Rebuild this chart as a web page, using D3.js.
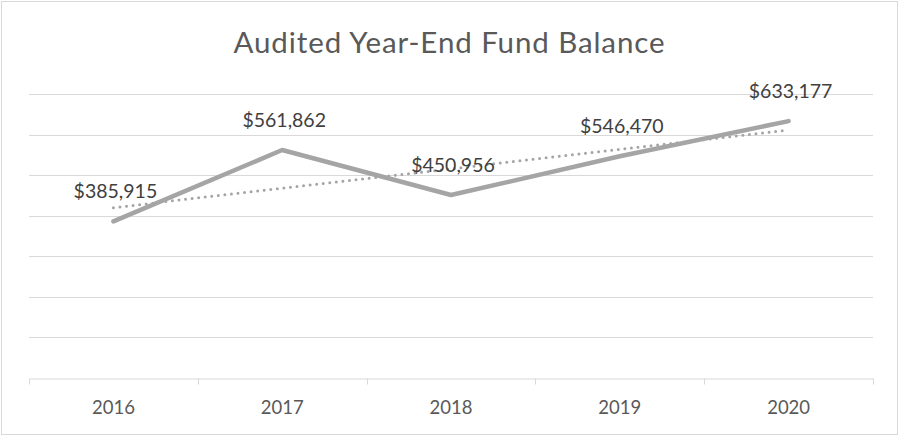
<!DOCTYPE html>
<html>
<head>
<meta charset="utf-8">
<title>Audited Year-End Fund Balance</title>
<style>
  body { margin: 0; background: #fff; }
  text { font-family: Lato, "Open Sans", sans-serif; }
</style>
</head>
<body>
<script src="https://cdn.jsdelivr.net/npm/d3@7/dist/d3.min.js"></script>
<script>
// data
var years = ["2016", "2017", "2018", "2019", "2020"];
var balances = [385915, 561862, 450956, 546470, 633177];
var yTicks = [0, 100000, 200000, 300000, 400000, 500000, 600000, 700000];

var width = 899, height = 436;
var plotLeft = 29, plotRight = 873, plotTop = 94, plotBottom = 378;

var svg = d3.select("body").append("svg")
    .attr("width", width)
    .attr("height", height);

svg.append("rect")
    .attr("x", 1.5).attr("y", 1.5)
    .attr("width", width - 3).attr("height", height - 3)
    .attr("fill", "#fff")
    .attr("stroke", "#d9d9d9");

var x = d3.scaleBand().domain(years).range([plotLeft, plotRight]);
var y = d3.scaleLinear().domain([0, 700000]).range([plotBottom, plotTop]);
var cx = d => x(d) + x.bandwidth() / 2;

// title
svg.append("text")
    .attr("x", width / 2)
    .attr("y", 53)
    .attr("text-anchor", "middle")
    .attr("font-size", 29.5)
    .attr("letter-spacing", 0.9)
    .attr("fill", "#595959")
    .text("Audited Year-End Fund Balance");

// gridlines
svg.append("g").selectAll("line")
    .data(yTicks.slice(1))
    .join("line")
    .attr("x1", plotLeft).attr("x2", plotRight)
    .attr("y1", d => Math.round(y(d)) + 0.5)
    .attr("y2", d => Math.round(y(d)) + 0.5)
    .attr("stroke", "#d9d9d9")
    .attr("stroke-width", 1);

// x axis
var xAxis = d3.axisBottom(x).tickSize(0).tickPadding(0);
var gx = svg.append("g")
    .attr("transform", "translate(0," + (Math.round(y(0)) + 0.5) + ")")
    .call(xAxis);
gx.select(".domain").attr("stroke", "#d9d9d9");
gx.selectAll("text")
    .attr("font-size", 18.5)
    .attr("fill", "#595959")
    .attr("dy", 0)
    .attr("y", 35);
gx.selectAll(".bound")
    .data(years.concat(["end"]))
    .join("line")
    .attr("class", "bound")
    .attr("x1", (d, i) => Math.round(plotLeft + i * x.bandwidth()) + 0.5)
    .attr("x2", (d, i) => Math.round(plotLeft + i * x.bandwidth()) + 0.5)
    .attr("y1", 0).attr("y2", 6)
    .attr("stroke", "#d9d9d9");

// linear trendline (least squares on the series)
var n = balances.length;
var idx = d3.range(1, n + 1);
var mx = d3.mean(idx), my = d3.mean(balances);
var slope = d3.sum(idx, (k, i) => (k - mx) * (balances[i] - my)) / d3.sum(idx, k => (k - mx) * (k - mx));
var icpt = my - slope * mx;
var trend = years.map((yr, i) => ({ year: yr, v: icpt + slope * (i + 1) }));

var line = d3.line().x(d => cx(d.year)).y(d => y(d.v));

svg.append("path")
    .datum([trend[0], trend[n - 1]])
    .attr("fill", "none")
    .attr("stroke", "#a5a5a5")
    .attr("stroke-width", 3)
    .attr("stroke-linecap", "round")
    .attr("stroke-dasharray", "0 6.6")
    .attr("d", line);

// main series
var pts = years.map((yr, i) => ({ year: yr, v: balances[i] }));
svg.append("path")
    .datum(pts)
    .attr("fill", "none")
    .attr("stroke", "#a5a5a5")
    .attr("stroke-width", 4.5)
    .attr("stroke-linecap", "round")
    .attr("stroke-linejoin", "round")
    .attr("d", line);

// data labels
var fmt = d3.format("$,");
svg.append("g").selectAll("text")
    .data(pts)
    .join("text")
    .attr("x", d => cx(d.year) + 2)
    .attr("y", d => y(d.v) - 23)
    .attr("text-anchor", "middle")
    .attr("font-size", 19.5)
    .attr("fill", "#404040")
    .text(d => fmt(d.v));
</script>
</body>
</html>
